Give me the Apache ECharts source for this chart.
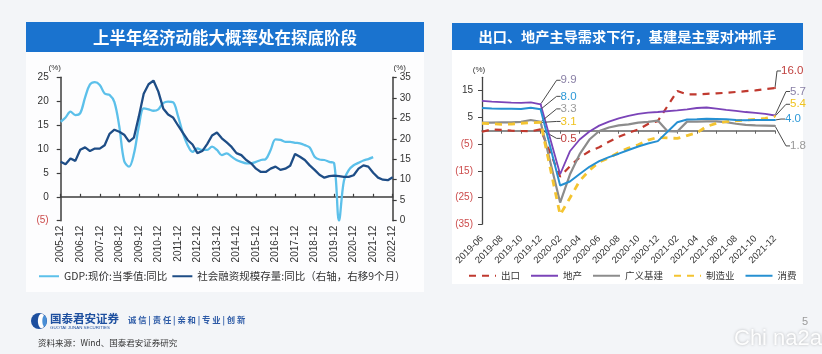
<!DOCTYPE html>
<html><head><meta charset="utf-8">
<script src="https://cdn.jsdelivr.net/npm/echarts@6/dist/echarts.min.js"></script>
<style>html,body{margin:0;padding:0;background:#f2f5f8;}#c{width:822px;height:354px;}</style>
</head><body><div id="c"></div>
<script>
// ---------- Left chart data (quarterly) ----------
const leftQuarters = ['2005-12',
 '2006-03','2006-06','2006-09','2006-12','2007-03','2007-06','2007-09','2007-12',
 '2008-03','2008-06','2008-09','2008-12','2009-03','2009-06','2009-09','2009-12',
 '2010-03','2010-06','2010-09','2010-12','2011-03','2011-06','2011-09','2011-12',
 '2012-03','2012-06','2012-09','2012-12','2013-03','2013-06','2013-09','2013-12',
 '2014-03','2014-06','2014-09','2014-12','2015-03','2015-06','2015-09','2015-12',
 '2016-03','2016-06','2016-09','2016-12','2017-03','2017-06','2017-09','2017-12',
 '2018-03','2018-06','2018-09','2018-12','2019-03','2019-06','2019-09','2019-12',
 '2020-03','2020-06','2020-09','2020-12','2021-03','2021-06','2021-09','2021-12',
 '2022-03','2022-06','2022-09','2022-12'];
// GDP: nominal, quarterly, yoy (left axis)
const gdpNominalYoY = [15.7,
 16.6,17.8,17.1,17.5, 20.8,23.5,24.0,23.4,
 21.6,21.3,19.8,14.7, 7.5,6.3,9.0,14.7,
 18.5,18.3,18.0,18.3, 19.6,19.9,19.8,17.0,
 13.4,10.8,9.4,10.1, 9.8,9.8,10.5,9.8,
 8.7,9.1,8.4,7.7, 7.3,7.0,7.0,7.3,
 7.7,7.9,9.8,12.0, 11.9,11.5,11.5,11.3,
 11.2,10.8,10.3,8.4, 7.8,7.7,7.3,7.0,
 -5.0,3.3,5.6,6.6, 7.1,7.6,7.9,8.3,
 null,null,null,null];
// Social financing stock yoy, shifted 9 months (right axis)
const tsfStockYoY = [14.4,
 13.8,15.2,14.6,17.3, 17.9,17.0,17.6,17.6,
 18.4,21.2,22.2,21.7, 21.0,19.3,20.3,25.4,
 31.0,33.3,34.2,31.5, 27.4,25.9,25.2,23.3,
 21.5,19.7,18.6,16.5, 17.0,18.7,20.8,21.5,
 20.1,19.1,18.0,16.5, 16.0,14.8,14.0,12.7,
 11.9,11.9,12.7,13.2, 12.4,12.7,13.4,16.3,
 15.6,14.8,13.5,12.4, 11.2,10.5,10.9,11.0,
 10.9,10.7,10.7,11.1, 12.7,13.5,13.2,11.7,
 10.5,10.0,9.9,10.6];
const leftYTicks = {min:-5, max:25, step:5};
const rightYTicks = {min:0, max:35, step:5};

// ---------- Right chart data (monthly, cumulative yoy; 2021 two-year average) ----------
const rightMonths = ['2019-06','2019-07','2019-08','2019-09','2019-10','2019-11','2019-12',
 '2020-01','2020-02','2020-03','2020-04','2020-05','2020-06','2020-07','2020-08','2020-09',
 '2020-10','2020-11','2020-12','2021-01','2021-02','2021-03','2021-04','2021-05','2021-06',
 '2021-07','2021-08','2021-09','2021-10','2021-11','2021-12'];
const exportsYoY =       [-0.4,0.5,0.3,0.0,-0.1,-0.2,0.5, null,-17.2,-13.3,-10.0,-7.7,-6.2,-4.1,-2.3,-0.8,0.5,2.5,3.6, null,14.9,13.6,13.6,13.8,14.0,14.2,14.5,14.8,15.1,15.6,16.0];
const realEstateYoY =    [11.2,10.9,10.7,10.5,10.4,10.6,9.9, null,-16.3,-7.7,-3.3,-0.3,1.9,3.4,4.6,5.6,6.3,6.8,7.0, null,7.6,8.0,8.5,8.7,8.3,7.8,7.4,7.0,6.7,6.3,5.7];
const infraYoY =         [3.0,3.0,3.1,3.1,3.3,4.0,3.3, null,-26.9,-16.4,-8.8,-3.3,-0.1,1.2,2.0,2.4,3.0,3.3,3.8, -0.2,-0.3,3.4,3.4,3.5,3.5,3.2,2.6,2.2,2.0,1.9,1.8];
const manufacturingYoY = [2.8,2.6,2.4,2.5,2.8,3.0,3.1, null,-31.5,-25.2,-18.8,-14.8,-11.7,-10.2,-8.1,-6.5,-5.3,-3.5,-2.5, null,-2.9,-1.8,-0.8,1.6,2.8,3.4,3.7,4.0,4.3,4.6,5.4];
const consumptionYoY =   [8.5,8.3,8.2,8.2,8.1,8.6,8.0, null,-20.5,-19.0,-16.2,-13.5,-11.4,-9.9,-8.6,-7.2,-5.9,-4.8,-3.9, null,3.2,4.2,4.3,4.5,4.4,4.3,4.0,3.9,4.0,4.0,4.0];
const labeledIndex = [6, 30];   // 2019-12 and 2021-12 annotated

// ---------- styles ----------
const NUM_FONT = '"Liberation Sans", Arial, sans-serif';
const CJK_FONT = '"Noto Sans CJK SC", "Noto Sans", sans-serif';
const RED_NEG = '#cc4b4b';
const negFmt = v => v < 0 ? '(' + (-v) + ')' : String(v);
const negColor = v => (Number(v) < 0 ? RED_NEG : '#333');

// label offsets (px, relative to data point) for annotation labels
const annot = {
  '出口':     {color:'#c0413f', off:[[20, 9],[6,-17]]},
  '地产':     {color:'#8a80a6', off:[[20,-24],[15,-24]]},
  '广义基建': {color:'#9a9a9a', off:[[20,-13],[15,20]]},
  '制造业':   {color:'#efc21e', off:[[20,-1],[15,-12]]},
  '消费':     {color:'#2f9ad8', off:[[20,-13],[10,-1]]}
};

function rightSeries(name, arr, color, dashed, width, z) {
  const a = annot[name];
  return {
    name, type:'line', xAxisIndex:2, yAxisIndex:2,
    data: arr.map((v,i) => labeledIndex.indexOf(i) >= 0 ? {
      value: v, symbol:'circle', symbolSize:2,
      label: {show:true, formatter: v.toFixed(1), color: a.color, fontSize:11.5,
              fontFamily: NUM_FONT, position:'right'}
    } : v),
    symbol:'none', showSymbol:true, showAllSymbol:true, connectNulls:true, z,
    lineStyle:{color, width, type: dashed ? [7,6] : 'solid'},
    itemStyle:{color},
    labelLine:{show:true, length2:4, smooth:false, lineStyle:{color:'#4a4a4a', width:1}},
    labelLayout: p => {
      const o = a.off[p.dataIndex === labeledIndex[0] ? 0 : 1];
      return {x: p.rect.x + p.rect.width/2 + o[0], y: p.rect.y + p.rect.height/2 + o[1],
              align:'left', verticalAlign:'middle'};
    },
    emphasis:{disabled:true}
  };
}

const isYearEnd = (i, v) => String(v).slice(5) === '12';
const axisDark = '#3c3c3c';

const option = {
  animation:false,
  backgroundColor:'#f3f5f8',
  textStyle:{fontFamily: CJK_FONT},
  graphic:[
    {type:'rect', z:-10, shape:{x:26,y:52,width:398,height:240}, style:{fill:'#fdfdfe'}},
    {type:'rect', z:-10, shape:{x:452,y:50,width:351,height:234}, style:{fill:'#ffffff'}},
    {type:'rect', z:-9, shape:{x:26,y:22,width:398,height:30}, style:{fill:'#1a73cf'}},
    {type:'text', z:-8, x:225, y:37.5, style:{text:'上半年经济动能大概率处在探底阶段', fill:'#ffffff',
      fontSize:16.5, fontWeight:'bold', fontFamily:CJK_FONT, align:'center', verticalAlign:'middle'}},
    {type:'rect', z:-9, shape:{x:452,y:23,width:351,height:27}, style:{fill:'#1a73cf'}},
    {type:'text', z:-8, x:627.5, y:37, style:{text:'出口、地产主导需求下行，基建是主要对冲抓手', fill:'#ffffff',
      fontSize:14.2, fontWeight:'bold', fontFamily:CJK_FONT, align:'center', verticalAlign:'middle'}},
    // footer
    {type:'circle', shape:{cx:39, cy:321, r:8}, style:{fill:'#1d4f9f'}},
    {type:'ellipse', shape:{cx:41.5, cy:321, rx:3.6, ry:7.2}, style:{fill:'#ffffff'}},
    {type:'ellipse', shape:{cx:44.5, cy:321, rx:2.2, ry:5.5}, style:{fill:'#4a8fd6'}},
    {type:'text', x:50, y:318.5, style:{text:'国泰君安证券', fill:'#1d4f9f', fontSize:11.5, fontWeight:'bold',
      fontFamily:CJK_FONT, verticalAlign:'middle'}},
    {type:'text', x:50, y:328, style:{text:'GUOTAI JUNAN SECURITIES', fill:'#1d4f9f', fontSize:4.4,
      fontFamily:NUM_FONT, verticalAlign:'middle'}},
    {type:'text', x:128, y:320, style:{text:'诚 信 | 责 任 | 亲 和 | 专 业 | 创 新', fill:'#2c5aa6', fontSize:8.3,
      fontWeight:'bold', fontFamily:CJK_FONT, verticalAlign:'middle'}},
    {type:'text', x:38, y:343, style:{text:'资料来源：Wind、国泰君安证券研究', fill:'#333', fontSize:8.5,
      fontFamily:CJK_FONT, verticalAlign:'middle'}},
    {type:'text', x:802, y:322, style:{text:'5', fill:'#9a9a9a', fontSize:11, fontFamily:NUM_FONT, verticalAlign:'middle'}},
    {type:'text', x:734, y:339, style:{text:'Chi na2au', fill:'rgba(255,255,255,0.95)', fontSize:22,
      fontFamily:NUM_FONT, verticalAlign:'middle', textShadowColor:'rgba(0,0,0,0.28)', textShadowBlur:3}}
  ],
  grid:[
    {left:60.7, right:822-392.7, top:77.3, bottom:354-220.7, outerBoundsMode:'none'},
    {left:482, right:822-775, top:77.3, bottom:354-224.2, outerBoundsMode:'none'}
  ],
  legend:[
    {left:33, top:266, itemWidth:20, itemHeight:10, itemGap:4, selectedMode:false,
     itemStyle:{opacity:0},
     textStyle:{fontSize:10.5, color:'#333', fontFamily:CJK_FONT},
     data:['GDP:现价:当季值:同比','社会融资规模存量:同比（右轴，右移9个月）']},
    {left:463, top:266, itemWidth:27, itemHeight:10, itemGap:10, selectedMode:false,
     itemStyle:{opacity:0},
     textStyle:{fontSize:9.5, color:'#333', fontFamily:CJK_FONT},
     data:['出口','地产','广义基建','制造业','消费']}
  ],
  xAxis:[
    {type:'category', gridIndex:0, data:leftQuarters, boundaryGap:false,
     axisLine:{onZero:true, onZeroAxisIndex:0, lineStyle:{color:axisDark, width:1.5}},
     axisTick:{inside:true, length:3, interval:isYearEnd, lineStyle:{color:axisDark, width:1.2}},
     axisLabel:{show:false}, splitLine:{show:false}},
    {type:'category', gridIndex:0, data:leftQuarters, boundaryGap:false, position:'bottom',
     axisLine:{show:false, onZero:false}, axisTick:{show:false}, splitLine:{show:false},
     axisLabel:{rotate:90, interval:isYearEnd, fontSize:10, color:'#333', margin:5, fontFamily:NUM_FONT}},
    {type:'category', gridIndex:1, data:rightMonths, boundaryGap:false,
     axisLine:{onZero:true, onZeroAxisIndex:2, lineStyle:{color:'#666', width:1.5}},
     axisTick:{inside:false, length:3, interval:1, lineStyle:{color:'#666', width:1}},
     axisLabel:{show:false}, splitLine:{show:false}},
    {type:'category', gridIndex:1, data:rightMonths, boundaryGap:false, position:'bottom',
     axisLine:{show:false, onZero:false}, axisTick:{show:false}, splitLine:{show:false},
     axisLabel:{rotate:45, interval:1, fontSize:9.5, color:'#333', margin:13, fontFamily:NUM_FONT}}
  ],
  yAxis:[
    {type:'value', gridIndex:0, position:'left', min:leftYTicks.min, max:leftYTicks.max, interval:leftYTicks.step,
     axisLine:{show:true, lineStyle:{color:axisDark, width:1.5}},
     axisTick:{show:true, length:4, lineStyle:{color:axisDark, width:1.2}}, splitLine:{show:false},
     axisLabel:{formatter:negFmt, color:negColor, fontSize:10, margin:12, fontFamily:NUM_FONT},
     name:'(%)', nameLocation:'end', nameGap:6,
     nameTextStyle:{fontSize:8, color:'#333', padding:[0,12,0,0], fontFamily:NUM_FONT}},
    {type:'value', gridIndex:0, position:'right', min:rightYTicks.min, max:rightYTicks.max, interval:rightYTicks.step,
     axisLine:{show:true, lineStyle:{color:axisDark, width:1.5}},
     axisTick:{show:true, length:4, lineStyle:{color:axisDark, width:1.2}}, splitLine:{show:false},
     axisLabel:{fontSize:10, color:'#333', margin:7, fontFamily:NUM_FONT},
     name:'(%)', nameLocation:'end', nameGap:6,
     nameTextStyle:{fontSize:8, color:'#333', padding:[0,0,0,14], fontFamily:NUM_FONT}},
    {type:'value', gridIndex:1, position:'left', min:-35, max:20, interval:10,
     axisLine:{show:true, lineStyle:{color:'#444', width:1.3}},
     axisTick:{show:true, length:4, lineStyle:{color:'#444', width:1}}, splitLine:{show:false},
     axisLabel:{formatter:negFmt, color:negColor, fontSize:10, margin:9, showMaxLabel:false, fontFamily:NUM_FONT},
     name:'(%)', nameLocation:'end', nameGap:4,
     nameTextStyle:{fontSize:8, color:'#333', padding:[0,6,0,0], fontFamily:NUM_FONT}}
  ],
  series:[
    {name:'GDP:现价:当季值:同比', type:'line', xAxisIndex:0, yAxisIndex:0, data:gdpNominalYoY,
     symbol:'none', smooth:0.35, lineStyle:{color:'#5cc0ea', width:2.3}, itemStyle:{color:'#5cc0ea'}, z:3},
    {name:'社会融资规模存量:同比（右轴，右移9个月）', type:'line', xAxisIndex:0, yAxisIndex:1, data:tsfStockYoY,
     symbol:'none', lineStyle:{color:'#1e4d86', width:2.3}, itemStyle:{color:'#1e4d86'}, z:4},
    rightSeries('出口', exportsYoY, '#c0392f', true, 2.2, 3),
    rightSeries('地产', realEstateYoY, '#7b44b8', false, 1.8, 4),
    rightSeries('广义基建', infraYoY, '#8c8c8c', false, 2.2, 5),
    rightSeries('制造业', manufacturingYoY, '#f4c430', true, 2.8, 6),
    rightSeries('消费', consumptionYoY, '#2690d2', false, 2.0, 7)
  ]
};
const chart = echarts.init(document.getElementById('c'), null, {renderer:'canvas'});
chart.setOption(option);
</script></body></html>
